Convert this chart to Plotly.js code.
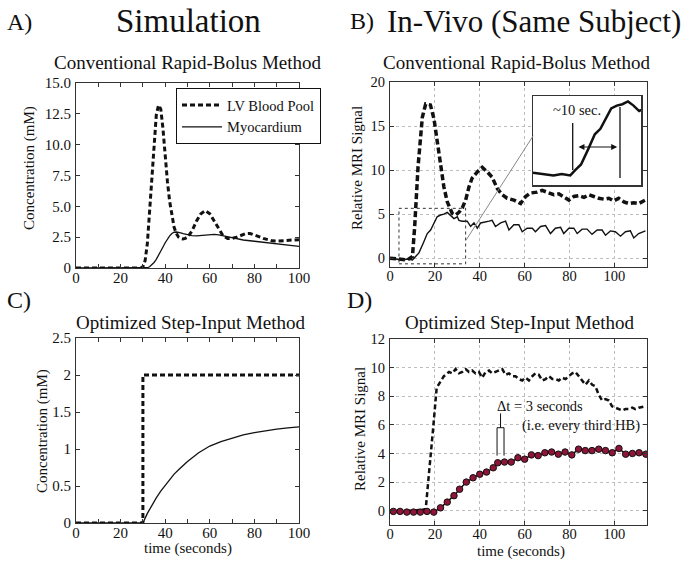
<!DOCTYPE html>
<html><head><meta charset="utf-8">
<script src="https://cdn.plot.ly/plotly-3.0.1.min.js"></script>
<style>html,body{margin:0;padding:0;background:#fff}#chart{width:685px;height:563px}</style>
</head><body><div id="chart"></div>
<script>
// ---------- Panel A (simulation, rapid bolus) ----------
const tLvA = [0,10,20,29,30,31,32,33,34,35,36,37,38,39,40,41,42,43,44,45,46,47,48,49,50,52,54,56,58,60,62,64,66,68,70,72,74,76,78,80,82,84,86,88,90,92,94,96,98,100];
const lvA  = [0,0,0,0,0.1,0.6,2.0,4.5,7.5,10.3,12.4,13.2,12.9,11.3,9.0,7.0,5.4,4.2,3.3,2.8,2.5,2.4,2.35,2.4,2.5,3.0,3.8,4.4,4.65,4.4,3.8,3.1,2.6,2.4,2.4,2.5,2.65,2.78,2.8,2.7,2.55,2.4,2.28,2.2,2.18,2.2,2.25,2.28,2.3,2.3];
const tMyoA = [0,10,20,30,31,32,33,34,35,36,37,38,39,40,41,42,43,44,45,46,47,48,50,52,54,56,58,60,62,64,66,68,70,72,75,80,85,90,95,100];
const myoA  = [0,0,0,0,0,0.02,0.1,0.25,0.45,0.7,1.0,1.35,1.7,2.05,2.35,2.6,2.8,2.9,2.92,2.9,2.85,2.78,2.68,2.62,2.6,2.63,2.68,2.72,2.72,2.68,2.6,2.5,2.42,2.35,2.27,2.17,2.05,1.93,1.83,1.75];

// ---------- Panel B (in vivo, rapid bolus) ----------
const tLvB = [0,4,7.7,10,11,12.5,14.4,15.9,18,19.6,21,22.5,24,25.5,27.7,29.2,30.7,32.2,33.7,35.2,36.6,38.9,41.1,43.3,45.5,47.8,50,52.2,55.2,58.2,60.4,62.6,65.6,67.8,70,73,75.2,77.4,79.7,81.9,84.1,86.4,88.6,90.8,93,95.3,97.5,99.7,101.9,104.2,106.4,108.6,110.8,113.8];
const lvB  = [0,-0.1,-0.2,0.2,3.6,10.4,16,17.5,17.4,15.8,13.4,10.4,8.1,6.4,5.1,4.9,5.2,5.7,6.6,8.1,9.1,9.8,10.3,9.8,9.2,7.9,7.2,6.8,6.6,6.2,7.0,7.4,7.5,7.7,7.5,7.2,7.3,7.0,6.6,7.0,7.1,6.9,7.2,7.0,6.8,6.7,6.8,6.5,6.8,6.4,6.2,6.3,6.2,6.6];
const tMyoB = [0,3.3,5.5,7.7,10,11.4,12.9,14.8,16.6,18.1,19.6,21,22.5,24,25.5,27,28.5,30,30.7,32.2,34.4,35.9,37.4,38.9,40.4,44.1,45.5,47,49.3,51.5,53,55.2,57.4,58.9,61.1,63.4,64.8,67.1,69.3,71.5,73.7,76,77.4,79.7,81.9,83.4,85.6,87.8,90,92.3,94.5,96,98.2,100.4,102.7,104.9,107.1,108.6,110.8,113.8];
const myoB  = [0,-0.1,-0.2,-0.1,-0.2,0.2,0.6,1.7,2.8,3.2,4.0,4.7,4.9,5.0,5.2,4.9,4.5,4.7,4.3,4.2,4.2,3.6,4.0,3.4,4.0,4.2,4.3,3.6,4.0,4.2,3.2,3.8,3.8,3.0,3.4,3.4,3.0,3.6,3.7,2.8,3.4,3.5,2.8,3.4,3.4,2.8,3.3,3.3,2.7,3.2,3.2,2.6,3.1,3.0,2.5,3.0,3.1,2.3,2.8,3.1];

// ---------- Panel C (simulation, step input) ----------
const tLvC = [0,30,30,100];
const lvC  = [0,0,2,2];
const tMyoC = [0,30,32,34,36,38,40,42,44,46,48,50,55,60,65,70,75,80,85,90,95,100];
const myoC  = [0,0,0.13,0.24,0.34,0.43,0.51,0.59,0.66,0.72,0.78,0.83,0.95,1.04,1.1,1.15,1.19,1.22,1.25,1.27,1.285,1.3];

// ---------- Panel D (in vivo, step input) ----------
const tLvD = [0,5,10,15.9,16.9,18.1,19.3,20.8,22.6,24,26.3,27.7,29.2,30.7,32.2,33.7,35.2,36.6,38.1,39.6,41.1,42.6,44.1,45.5,47,48.5,50,51.5,53,54.5,55.9,57.4,58.9,60.4,61.9,63.4,64.8,66.3,67.8,69.3,70.8,72.3,73.7,75.2,76.7,78.2,79.7,81.2,82.6,84.1,85.6,87.1,88.6,90.1,91.5,93,94.5,96,97.5,98.9,100.4,101.9,103.4,104.9,106.4,107.9,109.3,110.8,113.8];
const lvD  = [0,0,0,0.1,1.7,3.8,5.9,8.6,9.0,9.4,9.7,9.6,9.9,9.6,9.7,9.9,9.7,9.8,9.6,9.7,9.3,9.7,9.8,9.6,9.7,9.8,9.9,9.5,9.6,9.4,9.4,9.2,9.1,9.3,9.1,9.4,9.6,9.5,9.1,9.2,9.4,9.2,9.2,9.1,9.3,9.2,9.4,9.6,9.7,9.4,9.1,8.8,9.1,8.8,8.7,8.1,7.7,7.8,7.7,7.3,7.2,7.1,7.0,7.1,7.1,7.2,7.1,7.2,7.3];
const tMyoD = [1.5,4.5,7.5,10.5,13.5,16.5,19.5,22.5,25.5,28.5,31,34,37,40,43,46,48,51,54,57,60,63,66,69,72,75,78,81,84,87,90,93,96,99,102,105,108,111,114];
const myoD  = [-0.05,-0.05,-0.1,-0.1,-0.1,-0.05,-0.1,0.2,0.6,1.05,1.5,2.0,2.3,2.55,2.7,3.0,3.35,3.4,3.4,3.7,3.6,3.9,3.85,4.05,4.1,3.95,4.1,3.9,4.3,4.2,4.2,4.3,4.2,4.05,4.35,3.95,4.0,4.05,3.95];

// ---------- Tick labels ----------
const xTickA = [0,10,20,30,40,50,60,70,80,90,100];
const xTickTextA = ['0','','20','','40','','60','','80','','100'];
const yTickA = [0,2.5,5,7.5,10,12.5,15];
const yTickTextA = ['0','2.5','5.0','7.5','10.0','12.5','15.0'];
const yTickC = [0,0.5,1,1.5,2,2.5];
const yTickTextC = ['0','0.5','1','1.5','2','2.5'];
const xTickB = [0,20,40,60,80,100];
const yTickB = [0,5,10,15,20];
const yTickD = [0,2,4,6,8,10,12];

const F = 'Liberation Serif, Times New Roman, serif';
const W = 685, H = 563;
const dx = (a,b)=>[a/W,b/W];
const dy = (top,bot)=>[1-bot/H,1-top/H];

function ax(domain, range, anchor, tickvals, ticktext, grid, isX, fs){
  const o = {domain, range, anchor, tickvals, ticks:'inside', ticklen:4, tickwidth:1, tickcolor:'#333',
    showline:true, linecolor:'#333', linewidth:1, mirror:'ticks', zeroline:false,
    showgrid:!!grid, gridcolor:'#bdbdbd', griddash:'dot', gridwidth:1,
    tickfont:{family:F, size:fs, color:'#111'}, fixedrange:true,
    ticklabelstandoff: isX ? -4 : 1};
  if (ticktext) o.ticktext = ticktext;
  return o;
}

const blk = '#111';
const traces = [
  {x:tLvA, y:lvA, xaxis:'x', yaxis:'y', mode:'lines', name:'LV Blood Pool', line:{color:blk, width:3, dash:'5px,3px'}},
  {x:tMyoA, y:myoA, xaxis:'x', yaxis:'y', mode:'lines', name:'Myocardium', line:{color:blk, width:1.3}},
  {x:tLvB, y:lvB, xaxis:'x2', yaxis:'y2', mode:'lines', showlegend:false, line:{color:blk, width:3.5, dash:'6px,3px'}},
  {x:tMyoB, y:myoB, xaxis:'x2', yaxis:'y2', mode:'lines', showlegend:false, line:{color:blk, width:1.4}},
  {x:tLvC, y:lvC, xaxis:'x3', yaxis:'y3', mode:'lines', showlegend:false, line:{color:blk, width:3, dash:'5px,3px'}},
  {x:tMyoC, y:myoC, xaxis:'x3', yaxis:'y3', mode:'lines', showlegend:false, line:{color:blk, width:1.3}},
  {x:tLvD, y:lvD, xaxis:'x4', yaxis:'y4', mode:'lines', showlegend:false, line:{color:blk, width:2.5, dash:'5px,3px'}},
  {x:tMyoD, y:myoD, xaxis:'x4', yaxis:'y4', mode:'lines+markers', showlegend:false, line:{color:blk, width:1.5},
    marker:{size:6.5, color:'#8e1538', line:{color:'#111', width:1}}},
  {x:tMyoB, y:myoB, xaxis:'x5', yaxis:'y5', mode:'lines', showlegend:false, line:{color:blk, width:2.5}}
];

const ann = (text,x,y,size,opts)=>Object.assign({text, x:x/W, y:1-y/H, xref:'paper', yref:'paper', showarrow:false,
  font:{family:F, size, color:'#111'}, xanchor:'center', yanchor:'middle'}, opts||{});

const layout = {
  width:W, height:H, margin:{l:0,r:0,t:0,b:0}, paper_bgcolor:'#fff', plot_bgcolor:'#fff', showlegend:true,
  xaxis: ax(dx(76,299), [0,100], 'y', xTickA, xTickTextA, false, true, 15),
  yaxis: ax(dy(83,268), [0,15], 'x', yTickA, yTickTextA, false, false, 15),
  xaxis2: ax(dx(390,647), [0,114.5], 'y2', xTickB, null, true, true, 14.5),
  yaxis2: ax(dy(82,267), [-1,20], 'x2', yTickB, null, true, false, 14.5),
  xaxis3: ax(dx(76,299), [0,100], 'y3', xTickA, xTickTextA, false, true, 15),
  yaxis3: ax(dy(338,523), [0,2.5], 'x3', yTickC, yTickTextC, false, false, 15),
  xaxis4: ax(dx(390,647), [0,114.5], 'y4', xTickB, null, true, true, 14.5),
  yaxis4: ax(dy(339,525), [-1,12], 'x4', yTickD, null, true, false, 14.5),
  xaxis5: {domain:dx(533,641), range:[0,29], anchor:'y5', showticklabels:false, ticks:'', showgrid:false, zeroline:false, showline:true, mirror:true, linecolor:'#333', linewidth:1.5, fixedrange:true},
  yaxis5: {domain:dy(96,185), range:[-0.9,5.6], anchor:'x5', showticklabels:false, ticks:'', showgrid:false, zeroline:false, showline:true, mirror:true, linecolor:'#333', linewidth:1.5, fixedrange:true},
  legend:{x:176/W, y:1-88/H, xanchor:'left', yanchor:'top', bgcolor:'#fff', bordercolor:'#111', borderwidth:1,
    font:{family:F, size:14.5, color:'#111'}, itemwidth:40, tracegroupgap:0},
  shapes:[
    {type:'rect', xref:'x2', yref:'y2', x0:4, x1:33.7, y0:-0.64, y1:5.66, line:{color:'#333', width:1, dash:'dot'}},
    {type:'line', xref:'x2', yref:'y2', x0:33.9, y0:2.05, x1:63.8, y1:13.9, line:{color:'#888', width:1}},
    {type:'line', xref:'x5', yref:'y5', x0:10.66, x1:10.66, y0:0.2, y1:3.63, line:{color:'#111', width:1.3}},
    {type:'line', xref:'x5', yref:'y5', x0:23.36, x1:23.36, y0:-0.39, y1:4.8, line:{color:'#111', width:1.3}},
    {type:'line', xref:'x4', yref:'y4', x0:49.25, x1:49.25, y0:5.8, y1:6.8, line:{color:'#111', width:1}},
    {type:'path', xref:'x4', yref:'y4', path:'M 47.7 3.85 L 47.7 5.8 L 50.8 5.8 L 50.8 3.85', line:{color:'#111', width:1}}
  ],
  annotations:[
    ann('Simulation',188,21,33),
    ann('In-Vivo (Same Subject)',534,21,31),
    ann('A)',19,22,24),
    ann('B)',362,21,24),
    ann('C)',19,300,24),
    ann('D)',359,300,24),
    ann('Conventional Rapid-Bolus Method',188,63,19),
    ann('Conventional Rapid-Bolus Method',517,62,19),
    ann('Optimized Step-Input Method',191,322,19),
    ann('Optimized Step-Input Method',520,322,19),
    ann('Concentration (mM)',29,168,15,{textangle:-90}),
    ann('Concentration (mM)',42,431,15,{textangle:-90}),
    ann('Relative MRI Signal',357,168,15,{textangle:-90}),
    ann('Relative MRI Signal',360,429,15,{textangle:-90}),
    ann('time (seconds)',188,548,15),
    ann('time (seconds)',521,551,15),
    ann('~10 sec.',577,110,14.5),
    {x:22.6, y:1.875, ax:11.8, ay:1.875, xref:'x5', yref:'y5', axref:'x5', ayref:'y5', text:'', showarrow:true,
      arrowhead:2, arrowside:'end+start', arrowsize:1, arrowwidth:1.2, arrowcolor:'#111'},
    ann('\u0394t = 3 seconds',495,406,14.5,{xanchor:'left'}),
    ann('(i.e. every third HB)',520,425,14.5,{xanchor:'left'})
  ]
};

Plotly.newPlot('chart', traces, layout, {displayModeBar:false, staticPlot:true});
</script></body></html>
